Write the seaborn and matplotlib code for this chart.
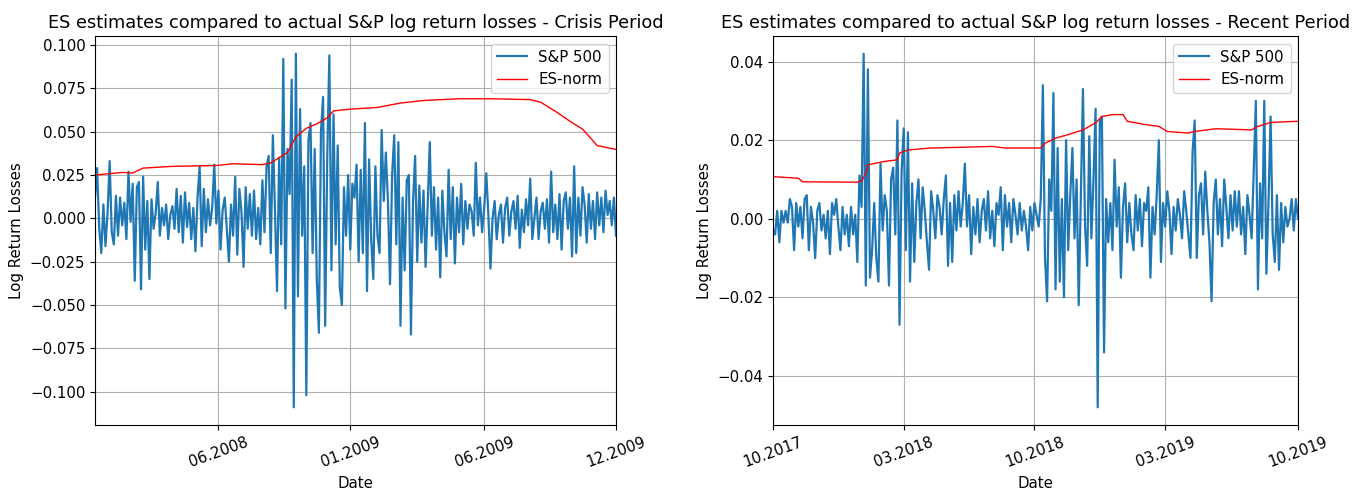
import numpy as np
import matplotlib
matplotlib.use("Agg")
import matplotlib.pyplot as plt
import seaborn as sns

# ---- data (trading-day index, roughly every 2nd day) ----
sp_crisis = [
    0.012, 0.029, -0.005, -0.020, 0.008, -0.016, 0.003, 0.033, -0.008, -0.015,
    0.013, -0.010, 0.012, -0.004, 0.009, -0.012, 0.027, -0.002, 0.020, -0.036,
    0.018, 0.021, -0.041, 0.024, -0.018, 0.010, -0.035, 0.011, -0.006, 0.003,
    0.021, -0.010, 0.006, -0.004, 0.008, -0.012, 0.002, 0.007, -0.006, 0.017,
    -0.008, 0.013, -0.014, 0.015, -0.005, 0.009, -0.012, 0.006, -0.019, 0.012,
    0.030, -0.016, 0.017, -0.008, 0.011, -0.004, 0.006, 0.031, -0.003, 0.016,
    -0.018, 0.005, 0.012, -0.006, -0.025, 0.008, -0.010, 0.024, -0.021, 0.017,
    0.004, -0.028, 0.018, -0.006, 0.014, -0.010, 0.016, -0.012, 0.006, -0.015,
    0.022, -0.008, 0.030, 0.036, -0.020, 0.048, 0.005, -0.042, 0.035, -0.015,
    0.092, -0.052, 0.040, 0.014, 0.080, -0.109, 0.095, -0.045, 0.063, -0.010,
    0.030, -0.102, 0.045, 0.055, -0.020, 0.040, -0.035, -0.066, 0.050, 0.070,
    -0.062, 0.035, 0.094, -0.030, 0.060, -0.015, 0.042, -0.040, -0.050, 0.018,
    -0.010, 0.025, -0.018, 0.020, 0.012, 0.031, -0.025, 0.028, -0.020, 0.055,
    -0.042, 0.034, -0.012, -0.035, 0.030, -0.010, -0.020, 0.051, 0.010, 0.038,
    0.010, -0.038, 0.025, 0.048, -0.015, 0.044, -0.062, 0.012, -0.030, 0.022,
    0.025, -0.067, 0.010, 0.036, -0.025, 0.019, -0.014, 0.016, -0.028, 0.008,
    0.044, -0.010, 0.018, -0.018, 0.012, -0.034, 0.016, -0.008, -0.022, 0.028,
    -0.012, 0.018, -0.026, 0.012, -0.008, 0.020, -0.015, 0.010, -0.006, 0.008,
    0.004, -0.010, 0.032, -0.004, 0.012, -0.008, 0.006, 0.026, 0.002, -0.029,
    0.000, 0.010, -0.012, 0.002, 0.008, -0.014, 0.006, 0.012, -0.010, 0.004,
    0.010, -0.006, 0.013, -0.017, 0.005, -0.008, 0.011, -0.004, 0.023, -0.012,
    0.000, 0.012, -0.012, 0.004, 0.009, -0.006, 0.011, -0.014, 0.027, -0.008,
    0.008, -0.012, 0.014, -0.018, 0.010, 0.015, -0.006, 0.012, -0.022, 0.030,
    -0.020, 0.012, -0.010, 0.018, 0.008, -0.014, 0.014, -0.006, 0.010, -0.012,
    0.015, -0.004, 0.012, -0.008, 0.016, 0.002, 0.010, -0.004, 0.012, -0.010,
]
es_crisis_day = [0, 13, 18, 23, 37, 58, 66, 80, 84, 88, 92, 96, 101, 106, 111,
                 114, 122, 135, 146, 157, 174, 189, 208, 213, 221, 227, 233,
                 240, 248, 249]
es_crisis = [0.0250, 0.0265, 0.0262, 0.0290, 0.0300, 0.0305, 0.0315, 0.0310,
             0.0320, 0.0350, 0.0380, 0.0470, 0.0520, 0.0545, 0.0580, 0.0620,
             0.0630, 0.0640, 0.0665, 0.0680, 0.0690, 0.0690, 0.0685, 0.0670,
             0.0610, 0.0560, 0.0515, 0.0420, 0.0400, 0.0398]
crisis_tick_day = [59, 122, 186, 249]
crisis_tick_labels = ["06.2008", "01.2009", "06.2009", "12.2009"]

sp_recent = [
    -0.003, -0.004, 0.002, -0.006, 0.002, -0.001, 0.002, -0.001, 0.005, 0.003,
    -0.008, 0.004, -0.002, 0.003, -0.005, 0.005, 0.006, -0.008, 0.003, -0.001,
    -0.010, 0.002, 0.004, -0.003, 0.001, -0.005, 0.002, -0.009, 0.004, 0.001,
    0.005, -0.002, -0.008, 0.003, -0.004, 0.001, -0.007, 0.003, -0.004, 0.001,
    -0.011, 0.011, 0.003, 0.042, -0.017, 0.038, -0.015, -0.008, 0.004, -0.010,
    -0.016, 0.014, -0.003, 0.006, 0.002, -0.017, 0.010, 0.013, -0.004, 0.025,
    -0.027, 0.012, 0.023, -0.008, 0.022, -0.016, 0.009, -0.011, 0.004, 0.010,
    -0.005, 0.008, 0.002, -0.006, -0.013, 0.007, 0.002, -0.005, 0.006, 0.003,
    -0.004, 0.005, 0.011, -0.012, 0.004, -0.011, 0.006, -0.003, 0.007, -0.002,
    0.004, 0.014, -0.002, 0.006, -0.009, 0.003, -0.004, 0.005, -0.006, 0.002,
    0.005, -0.003, 0.007, -0.005, 0.002, -0.007, 0.004, 0.001, 0.008, -0.008,
    0.006, -0.002, 0.004, -0.006, 0.005, 0.001, -0.004, 0.004, -0.003, 0.002,
    -0.002, -0.008, 0.003, -0.003, 0.004, 0.001, -0.002, 0.005, 0.034, -0.010,
    -0.021, 0.010, 0.002, 0.032, -0.018, 0.018, -0.016, 0.005, -0.020, 0.020,
    -0.008, 0.006, 0.018, -0.005, 0.010, -0.022, 0.005, 0.033, -0.002, -0.012,
    0.021, -0.005, 0.010, 0.028, -0.048, 0.025, 0.026, -0.034, 0.005, -0.006,
    0.004, -0.008, 0.015, -0.002, 0.008, -0.015, 0.003, 0.009, -0.006, 0.004,
    -0.004, -0.008, 0.006, -0.003, 0.005, -0.007, 0.004, 0.002, 0.008, -0.015,
    0.003, -0.004, 0.006, 0.020, -0.011, 0.004, -0.002, 0.007, 0.002, -0.009,
    0.003, -0.003, 0.005, 0.001, -0.005, 0.007, 0.002, -0.004, -0.010, 0.017,
    0.025, -0.010, 0.006, 0.009, -0.004, 0.012, 0.002, -0.006, -0.021, 0.004,
    0.010, -0.004, 0.005, -0.007, 0.010, 0.003, -0.005, 0.006, -0.003, 0.007,
    -0.002, 0.007, -0.004, 0.003, -0.009, 0.006, 0.001, -0.005, 0.012, 0.030,
    -0.018, 0.009, -0.005, 0.030, -0.014, 0.004, 0.026, -0.004, -0.011, 0.006,
    -0.013, 0.004, -0.006, 0.003, -0.002, 0.000, 0.005, -0.003, 0.005, 0.000,
]
es_recent_day = [0, 12, 14, 40, 42, 44, 45, 52, 59, 60, 64, 75, 91, 104, 110,
                 127, 129, 134, 140, 147, 153, 156, 161, 166, 168, 176, 183,
                 187, 197, 200, 210, 227, 230, 236, 249]
es_recent = [0.0107, 0.0103, 0.0094, 0.0093, 0.0096, 0.0115, 0.0137, 0.0145,
             0.0150, 0.0167, 0.0175, 0.0180, 0.0182, 0.0184, 0.0180, 0.0180,
             0.0192, 0.0205, 0.0214, 0.0226, 0.0244, 0.0260, 0.0265, 0.0265,
             0.0248, 0.0240, 0.0235, 0.0222, 0.0218, 0.0222, 0.0229, 0.0226,
             0.0235, 0.0245, 0.0248]
recent_tick_day = [0, 62, 124, 186, 249]
recent_tick_labels = ["10.2017", "03.2018", "10.2018", "03.2019", "10.2019"]

panels = [
    ("Crisis Period", sp_crisis, es_crisis_day, es_crisis,
     crisis_tick_day, crisis_tick_labels),
    ("Recent Period", sp_recent, es_recent_day, es_recent,
     recent_tick_day, recent_tick_labels),
]

plt.rcParams["font.size"] = 10.8

fig = plt.figure(figsize=(13.64, 4.88), dpi=100)
ax_left = fig.add_axes([95 / 1364, 63 / 488, 521 / 1364, 389 / 488])
ax_right = fig.add_axes([773 / 1364, 63 / 488, 525 / 1364, 389 / 488])

for ax, (period, sp, es_day, es, tick_day, tick_labels) in zip([ax_left, ax_right], panels):
    day = np.arange(len(sp))
    sns.lineplot(x=day, y=sp, ax=ax, color="#1f77b4", linewidth=1.6, label="S&P 500")
    sns.lineplot(x=es_day, y=es, ax=ax, color="red", linewidth=1.0, label="ES-norm")
    ax.set_xlim(0, len(sp) - 1)
    ax.set_xticks(tick_day)
    ax.set_xticklabels(tick_labels, rotation=20)
    ax.grid(True, color="#b0b0b0", linewidth=0.8)
    ax.set_title("ES estimates compared to actual S&P log return losses - " + period, fontsize=12.8)
    ax.set_xlabel("Date")
    ax.set_ylabel("Log Return Losses")
    ax.legend(loc="upper right")

plt.savefig("out.png", dpi=100)
plt.close()
